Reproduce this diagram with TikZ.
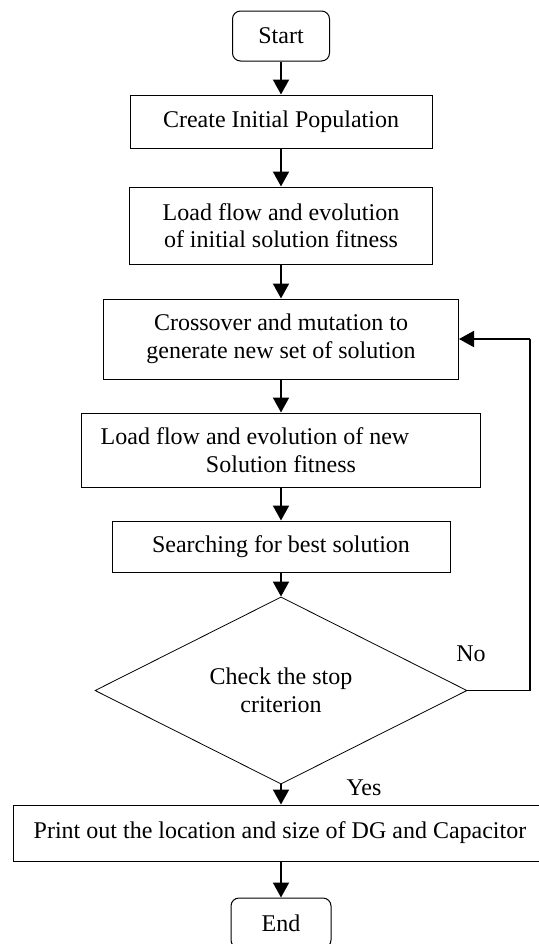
\documentclass[tikz,border=0pt]{standalone}
\usepackage{fontspec}
\setmainfont{Liberation Serif}
\usetikzlibrary{arrows.meta,shapes.geometric}

\tikzset{
  termbox/.style={draw,line width=0.5pt,rounded corners=4pt,minimum width=48.5pt,minimum height=25pt,inner sep=0pt},
  procbox/.style={draw,line width=0.5pt,align=center,inner sep=0pt},
  decide/.style={draw,diamond,line width=0.4pt,align=center,inner sep=0pt},
  flow/.style={line width=1pt,-{Triangle[length=7.5pt,width=8pt]}},
}

\begin{document}
\begin{tikzpicture}[line join=miter,x=0.5pt,y=-0.5pt,font=\fontsize{12}{13.8}\selectfont]
    \useasboundingbox (0,0) rectangle (539,944);
    % boxes, top to bottom
    \node[termbox] (start) at (281,36) {Start};
    \node[procbox,minimum width=151pt,minimum height=26.5pt] (init) at (281,121.5) {Create Initial Population};
    \node[procbox,minimum width=151.5pt,minimum height=38.5pt] (fitold) at (281,225.5) {Load flow and evolution\\of initial solution fitness};
    \node[procbox,minimum width=177.5pt,minimum height=40pt] (cross) at (281,339) {Crossover and mutation to\\generate new set of solution};
    \node[procbox,minimum width=199.5pt,minimum height=37pt] (fitnew) at (281,450) {Load flow and evolution of new\hspace*{26pt}\\Solution fitness};
    \node[procbox,minimum width=169pt,minimum height=25.5pt] (best) at (281,546.5) {Searching for best solution};
    \node[decide,minimum width=186pt,minimum height=83.5pt] (check) at (281,690.5) {Check the stop\\criterion};
    \node[procbox,minimum width=267pt,minimum height=28pt] (print) at (280,833) {Print out the location and size of DG and Capacitor};
    \node[termbox,minimum width=50pt] (end) at (281,923) {End};
    % connectors
    \draw[flow] (start) -- (init);
    \draw[flow] (init) -- (fitold);
    \draw[flow] (fitold) -- (cross);
    \draw[flow] (cross) -- (fitnew);
    \draw[flow] (fitnew) -- (best);
    \draw[flow] (best) -- (check.north);
    \draw[flow] (check.south) -- (print.north -| check.south);
    \draw[flow] (print.south -| end.north) -- (end.north);
    % loop back
    \coordinate (turn) at (530,339);
    \draw[line width=0.7pt] (check.east) -- (check.east -| turn) -- (turn);
    \draw[flow] (turn) -- (cross.east);
    \node (no) at (471,654) {No};
    \node (yes) at (364,788) {Yes};
\end{tikzpicture}
\end{document}
